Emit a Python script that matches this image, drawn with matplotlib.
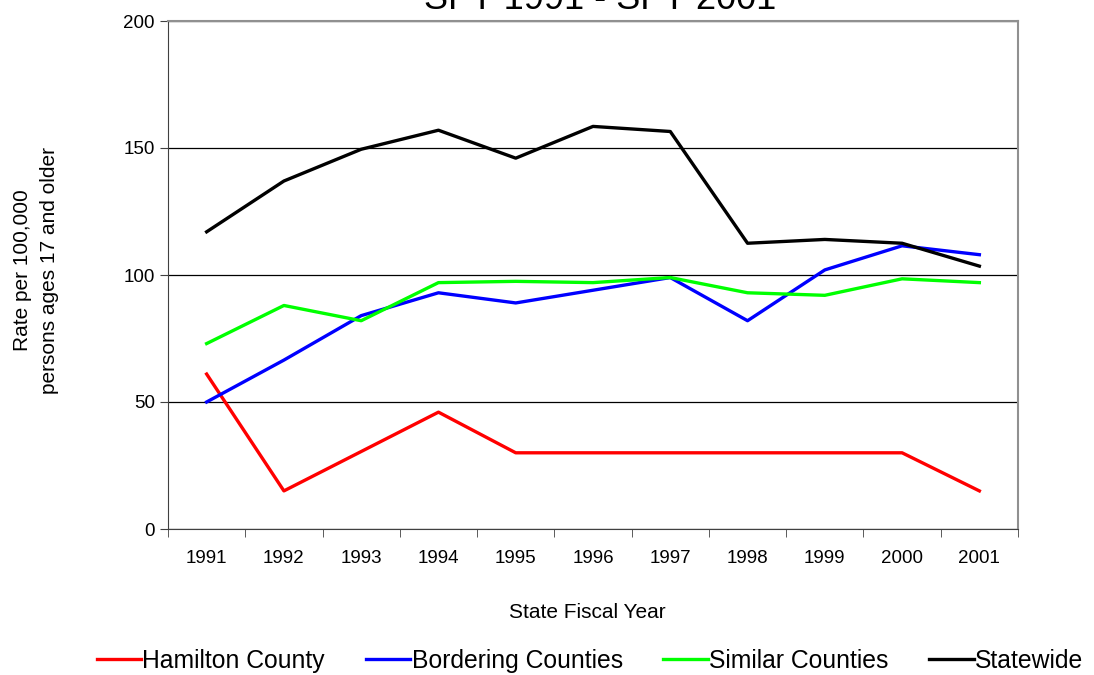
import matplotlib.pyplot as plt
import numpy as np

plt.rcParams['font.family'] = ['Liberation Sans', 'DejaVu Sans']

# data
roky = ['1991', '1992', '1993', '1994', '1995', '1996', '1997', '1998', '1999', '2000', '2001']
hamilton = [61, 15, 30.5, 46, 30, 30, 30, 30, 30, 30, 15]
bordering = [50, 66.5, 84, 93, 89, 94, 99, 82, 102, 111.5, 108]
similar = [73, 88, 82, 97, 97.5, 97, 99, 93, 92, 98.5, 97]
statewide = [117, 137, 149.5, 157, 146, 158.5, 156.5, 112.5, 114, 112.5, 103.5]

fig = plt.figure(figsize=(10.94, 6.75), dpi=100)
ax = fig.add_axes([168 / 1094, 1 - 529 / 675, (1018 - 168) / 1094, (529 - 21) / 675])

x = np.arange(len(roky))
ax.plot(x, hamilton, color='#ff0000', lw=2.4, label='Hamilton County')
ax.plot(x, bordering, color='#0000ff', lw=2.4, label='Bordering Counties')
ax.plot(x, similar, color='#00ff00', lw=2.4, label='Similar Counties')
ax.plot(x, statewide, color='#000000', lw=2.4, label='Statewide')

ax.set_xlim(-0.5, len(roky) - 0.5)
ax.set_ylim(0, 200)
ax.set_yticks([0, 50, 100, 150, 200])
ax.yaxis.grid(True, color='black', lw=0.9)
ax.set_axisbelow(True)

ax.set_xticks(x)
ax.set_xticklabels(roky)
ax.set_xticks(np.arange(-0.5, len(roky)), minor=True)
ax.tick_params(axis='x', which='major', length=0, pad=15, labelsize=13.5)
ax.tick_params(axis='x', which='minor', length=6, direction='out', color='#404040')
ax.tick_params(axis='y', length=6, direction='out', labelsize=13.5, color='#404040')

for s in ['top', 'right']:
    ax.spines[s].set_color('#909090')
    ax.spines[s].set_linewidth(1.5)
for s in ['left', 'bottom']:
    ax.spines[s].set_color('#404040')

fig.text(587 / 1094, 1 - 613 / 675, 'State Fiscal Year', ha='center', va='center', fontsize=15)
fig.text(36 / 1094, 1 - 270 / 675, 'Rate per 100,000\npersons ages 17 and older',
         rotation=90, ha='center', va='center', fontsize=15, linespacing=1.55)

fig.text(600 / 1094, 1 - 9 / 675, 'SFY 1991 - SFY 2001', ha='center', va='baseline', fontsize=26)

fig.legend(loc='center', bbox_to_anchor=(590 / 1094, 1 - 661 / 675), ncol=4, frameon=False,
           fontsize=17.8, handlelength=1.8, handletextpad=0.05, columnspacing=1.65)

plt.savefig('out.png', dpi=100)
